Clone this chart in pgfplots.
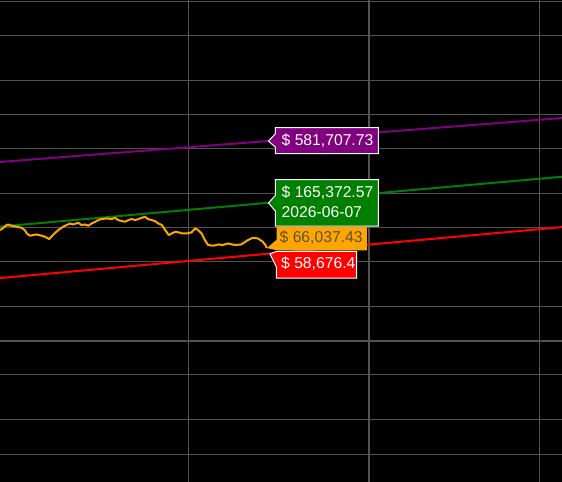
\documentclass[border=0pt]{standalone}
\usepackage{pgfplots}
\pgfplotsset{compat=1.18}
\usepackage{fontspec}
\setmainfont{Liberation Sans}

\definecolor{gridc}{RGB}{82,82,82}
\definecolor{pl}{RGB}{128,0,128}
\definecolor{gr}{RGB}{0,128,0}
\definecolor{rd}{RGB}{255,0,0}
\definecolor{org}{RGB}{255,165,0}
\definecolor{orgtxt}{RGB}{95,80,50}

\tikzset{lab/.style={font=\fontsize{15.7bp}{19.5bp}\selectfont, inner sep=0pt, anchor=west}}

\begin{document}
\begin{tikzpicture}
\begin{axis}[
    name=ax,
    at={(0,0)}, anchor=south west,
    scale only axis,
    width=562bp, height=482bp,
    % x = days since genesis block, drawn on a log scale
    x coord trafo/.code={\pgfmathparse{log10(max(#1,1))}},
    x coord inv trafo/.code={\pgfmathparse{10^(#1)}},
    ymode=log,
    xmin=5848, xmax=6988,
    ymin=566, ymax=1.027e7,
    axis background/.style={fill=black},
    axis line style={draw=none},
    tick style={draw=none},
    xtick={6207,6937},
    ytick={1000,2000,5000,20000,50000,100000,200000,500000,1000000,2000000,5000000,10000000},
    xticklabels={}, yticklabels={},
    extra x ticks={6572}, extra x tick labels={},
    extra y ticks={10000}, extra y tick labels={},
    extra x tick style={grid style={gridc, line width=2bp}},
    extra y tick style={grid style={gridc, line width=2bp}},
    xmajorgrids, ymajorgrids,
    grid style={gridc, line width=1bp},
]

% power-law bands (days since genesis, price)
\addplot[pl, line width=2bp] coordinates {(5848,380500) (6364,581707.73) (6988,930500)};
\addplot[gr, line width=2bp] coordinates {(5848,102100) (6364,165372.57) (6988,281850)};
\addplot[rd, line width=2bp] coordinates {(5848,35860) (6364,58676.4) (6988,101140)};

% price
\addplot[org, line width=2bp, line join=round] coordinates {
(5848,95260) (5853,98410) (5860,105460) (5863,106750) (5870,103960) (5879,101870)
(5888,99820) (5894,95260) (5898,88900) (5904,84830) (5910,86040) (5916,87100)
(5926,84830) (5932,83120) (5940,79320) (5944,83120) (5950,88900) (5957,95260)
(5966,101870) (5973,105460) (5979,108940) (5985,106750) (5995,110500) (6001,105460)
(6008,106750) (6014,103960) (6020,108940) (6027,112770) (6033,116730) (6039,119130)
(6049,120590) (6059,119130) (6065,122320) (6071,116730) (6078,114380) (6084,112770)
(6091,116730) (6097,119130) (6104,116730) (6110,119130) (6117,122320) (6123,124830)
(6129,119130) (6136,116730) (6142,114380) (6149,108940) (6156,105460) (6162,95260)
(6169,86040) (6175,88900) (6182,92020) (6189,90720) (6195,88900) (6205,88900)
(6214,90720) (6221,98410) (6227,95260) (6234,88900) (6240,77720) (6247,70220)
(6257,69220) (6267,71080) (6276,70220) (6286,72540) (6300,70220) (6313,71080)
(6326,77720) (6336,81450) (6346,80300) (6356,75090) (6361,70220) (6364,66037.43)
};

% callouts
\draw[fill=pl, draw=white, line width=1bp] ([xshift=1.5bp]axis cs:6364,581707.73) coordinate (tp)
    -- ++(7bp,7.5bp) -- ++(0bp,6bp) -- ++(103bp,0bp) -- ++(0bp,-26bp) -- ++(-103bp,0bp) -- ++(0bp,6.5bp) -- cycle;
\node[lab, text=white] at ([xshift=13bp, yshift=0.5bp]tp) {\$ 581,707.73};

\draw[fill=gr, draw=white, line width=1bp] ([xshift=1.5bp]axis cs:6364,165372.57) coordinate (tg)
    -- ++(7bp,7.7bp) -- ++(0bp,15.7bp) -- ++(103bp,0bp) -- ++(0bp,-46.7bp) -- ++(-103bp,0bp) -- ++(0bp,15bp) -- cycle;
\node[lab, text=white] at ([xshift=13bp, yshift=10.2bp]tg) {\$ 165,372.57};
\node[lab, text=white] at ([xshift=13bp, yshift=-9.3bp]tg) {2026-06-07};

\fill[org] (axis cs:6364,66037.43) coordinate (to)
    -- ++(9.7bp,8.3bp) -- ++(0bp,13bp) -- ++(90.2bp,0bp) -- ++(0bp,-23.5bp) -- ++(-90.2bp,0bp) -- cycle;
\node[lab, text=orgtxt] at ([xshift=12.5bp, yshift=10.3bp]to) {\$ 66,037.43};

\draw[fill=rd, draw=white, line width=1bp] ([xshift=3bp]axis cs:6364,58676.4) coordinate (tr)
    -- ++(6.5bp,2.4bp) -- ++(80.2bp,0bp) -- ++(0bp,-26.7bp) -- ++(-80.2bp,0bp) -- ++(0bp,11bp) -- cycle;
\node[lab, text=white] at ([xshift=11bp, yshift=-10bp]tr) {\$ 58,676.4};
\end{axis}
\pgfresetboundingbox
\path (ax.south west) rectangle (ax.north east);
\end{tikzpicture}
\end{document}
